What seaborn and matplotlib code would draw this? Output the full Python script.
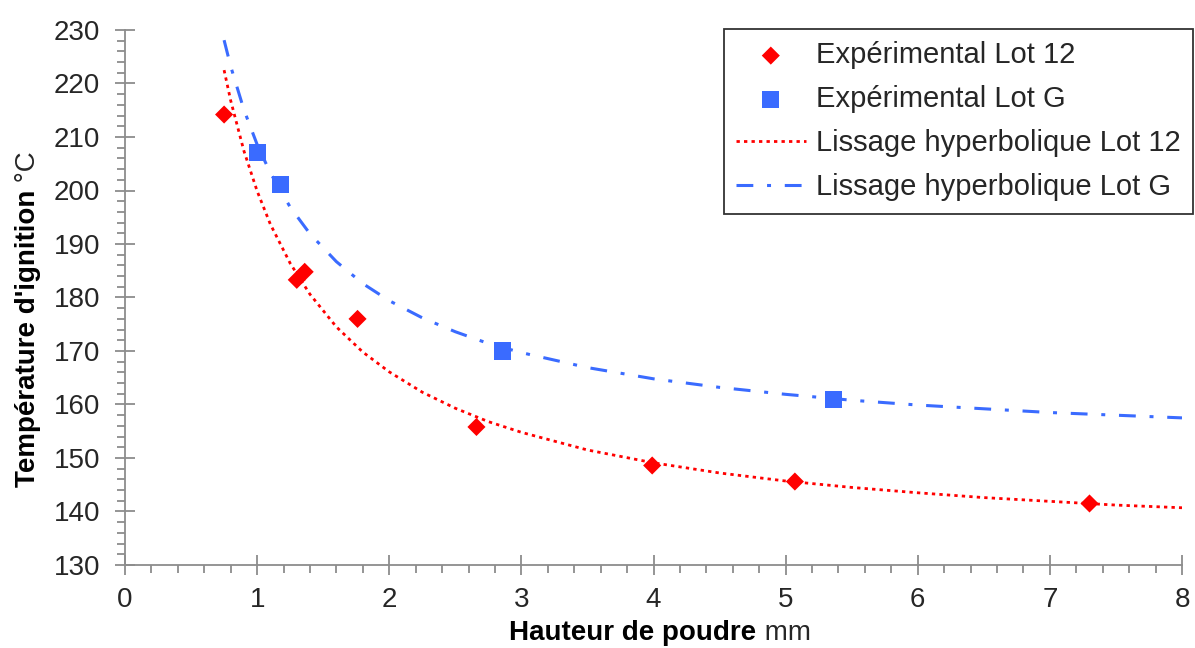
import matplotlib
matplotlib.use('Agg')
import seaborn as sns
import matplotlib.pyplot as plt
from matplotlib.ticker import MultipleLocator

# points expérimentaux
x_lot12 = [0.75, 1.30, 1.36, 1.76, 2.66, 3.99, 5.07, 7.30]
y_lot12 = [214.2, 183.3, 184.8, 176.0, 155.8, 148.6, 145.6, 141.5]
x_lotG = [1.00, 1.18, 2.86, 5.36]
y_lotG = [207.1, 201.1, 170.0, 161.0]

# courbes de lissage
x_fit = [0.75, 0.8, 0.9, 1.0, 1.1, 1.25, 1.4, 1.6, 1.8, 2.0, 2.25, 2.5, 2.75,
         3.0, 3.5, 4.0, 4.5, 5.0, 5.5, 6.0, 6.5, 7.0, 7.5, 8.0]
y_fit12 = [222.5, 216.8, 207.4, 199.9, 193.7, 186.4, 180.6, 174.5, 169.8, 166.1,
           162.3, 159.3, 156.8, 154.8, 151.5, 149.1, 147.2, 145.7, 144.5, 143.5,
           142.6, 141.9, 141.2, 140.7]
y_fitG = [228.1, 223.2, 215.1, 208.6, 203.3, 196.9, 191.9, 186.7, 182.6, 179.4,
          176.2, 173.6, 171.4, 169.7, 166.9, 164.8, 163.2, 161.9, 160.8, 159.9,
          159.2, 158.5, 158.0, 157.5]

RED = '#ff0000'
BLUE = '#3a6bff'
GREY = '#8c8c8c'
TXT = '#262626'

sns.set_style('white')
plt.rcParams['font.family'] = ['Liberation Sans', 'DejaVu Sans']

W, H = 1195, 648
fig = plt.figure(figsize=(W / 100, H / 100), dpi=100)
ax = fig.add_axes([125 / W, 1 - 565 / H, (1182 - 125) / W, (565 - 30) / H])

sns.scatterplot(x=x_lot12, y=y_lot12, marker='D', color=RED, s=85, edgecolor='none',
                label='Expérimental Lot 12', ax=ax, zorder=4)
sns.scatterplot(x=x_lotG, y=y_lotG, marker='s', color=BLUE, s=150, edgecolor='none',
                label='Expérimental Lot G', ax=ax, zorder=4)
sns.lineplot(x=x_fit, y=y_fit12, color=RED, lw=2.0, linestyle=(0, (1.2, 1.5)),
             label='Lissage hyperbolique Lot 12', ax=ax, zorder=3)
sns.lineplot(x=x_fit, y=y_fitG, color=BLUE, lw=2.2, linestyle=(0, (5.5, 4.5, 1.3, 4.5)),
             label='Lissage hyperbolique Lot G', ax=ax, zorder=3)

ax.set_xlim(0, 8)
ax.set_ylim(130, 230)
ax.xaxis.set_major_locator(MultipleLocator(1))
ax.xaxis.set_minor_locator(MultipleLocator(0.2))
ax.yaxis.set_major_locator(MultipleLocator(10))
ax.yaxis.set_minor_locator(MultipleLocator(2))
for s in ['top', 'right']:
    ax.spines[s].set_visible(False)
for s in ['left', 'bottom']:
    ax.spines[s].set_color(GREY)
    ax.spines[s].set_linewidth(1.3)
ax.tick_params(which='both', bottom=True, left=True, top=False, right=False)
ax.tick_params(which='major', direction='inout', length=14, width=1.3, color=GREY,
               labelsize=20, labelcolor=TXT)
ax.tick_params(axis='x', which='major', pad=9)
ax.tick_params(axis='y', which='major', pad=11)
ax.tick_params(which='minor', direction='out', length=6, width=1.3, color=GREY)
ax.set_xlabel('')
ax.set_ylabel('')

h, l = ax.get_legend_handles_labels()
leg = ax.legend(h, l, loc='upper right', bbox_to_anchor=(1193 / W, 1 - 29 / H),
                bbox_transform=fig.transFigure, borderaxespad=0, fontsize=21,
                frameon=True, fancybox=False, edgecolor='black', handlelength=2.4,
                labelspacing=0.55, handletextpad=0.35, borderpad=0.42, labelcolor=TXT)
leg.get_frame().set_linewidth(1.3)

# titres d'axes : partie en gras + unité normale
fig.canvas.draw()
r = fig.canvas.get_renderer()
tx1 = fig.text(0, 15 / H, 'Hauteur de poudre', weight='bold', fontsize=20, va='center', color='black')
tx2 = fig.text(0, 15 / H, ' mm', fontsize=20, va='center', color=TXT)
w1 = tx1.get_window_extent(r).width
w2 = tx2.get_window_extent(r).width
x0 = 660 - (w1 + w2) / 2
tx1.set_x(x0 / W)
tx2.set_x((x0 + w1) / W)

ty1 = fig.text(28 / W, 0, "Température d'ignition", weight='bold', fontsize=20,
               rotation=90, ha='center', va='bottom', color='black')
ty2 = fig.text(28 / W, 0, ' °C', fontsize=20, rotation=90, ha='center', va='bottom', color=TXT)
h1 = ty1.get_window_extent(r).height
h2 = ty2.get_window_extent(r).height
y0 = (H - 319) - (h1 + h2) / 2
ty1.set_y(y0 / H)
ty2.set_y((y0 + h1) / H)

fig.savefig('out.png', dpi=100)
